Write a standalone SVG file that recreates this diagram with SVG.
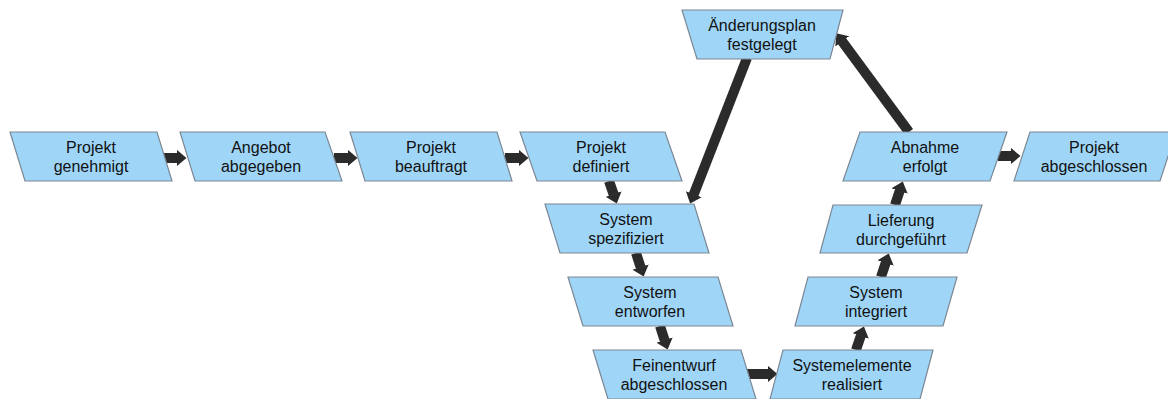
<svg xmlns="http://www.w3.org/2000/svg" width="1168" height="399" viewBox="0 0 1168 399">
  <style>
    .box { fill: #9fd6f8; stroke: #7b8794; stroke-width: 1.2; }
    .lbl { font-family: "Liberation Sans", Arial, sans-serif; font-size: 16px; fill: #111; text-anchor: middle; }
    .arr { stroke: #2b2b2b; stroke-width: 10; fill: none; marker-end: url(#head); }
  </style>
  <defs>
    <marker id="head" markerUnits="userSpaceOnUse" viewBox="0 0 10 17" markerWidth="10" markerHeight="17" refX="0.5" refY="8.5" orient="auto">
      <path d="M0,0 L10,8.5 L0,17 z" fill="#2b2b2b"/>
    </marker>
  </defs>
  <rect width="1168" height="399" fill="#ffffff"/>

  <g id="connectors">
    <line class="arr" x1="164" y1="158" x2="177" y2="158"/>
    <line class="arr" x1="334" y1="158" x2="348" y2="158"/>
    <line class="arr" x1="505" y1="158" x2="519" y2="158"/>
    <line class="arr" x1="998" y1="156" x2="1011" y2="156"/>
    <line class="arr" x1="747" y1="374" x2="768" y2="374"/>
    <line class="arr" x1="609" y1="181" x2="613.7" y2="194.5"/>
    <line class="arr" x1="636" y1="253" x2="640.7" y2="267.5"/>
    <line class="arr" x1="660" y1="326" x2="664.7" y2="340.5"/>
    <line class="arr" x1="856" y1="350" x2="860.9" y2="335.5"/>
    <line class="arr" x1="881" y1="277" x2="885.8" y2="262.5"/>
    <line class="arr" x1="895" y1="205" x2="899.8" y2="190.5"/>
    <line class="arr" x1="747" y1="58" x2="693.6" y2="194.7"/>
    <line class="arr" x1="909" y1="132" x2="841.9" y2="41"/>
  </g>

  <g id="n1"><polygon class="box" points="10,132 157,132 172,181 25,181"/><text class="lbl" x="91" y="153">Projekt</text><text class="lbl" x="91" y="172">genehmigt</text></g>
  <g id="n2"><polygon class="box" points="180,132 325,132 342,181 195,181"/><text class="lbl" x="261" y="153">Angebot</text><text class="lbl" x="261" y="172">abgegeben</text></g>
  <g id="n3"><polygon class="box" points="350,132 497,132 512,181 365,181"/><text class="lbl" x="431" y="153">Projekt</text><text class="lbl" x="431" y="172">beauftragt</text></g>
  <g id="n4"><polygon class="box" points="520,132 665,132 682,181 537,181"/><text class="lbl" x="601" y="153">Projekt</text><text class="lbl" x="601" y="172">definiert</text></g>
  <g id="n5"><polygon class="box" points="545,204 694,204 709,253 560,253"/><text class="lbl" x="626" y="225">System</text><text class="lbl" x="626" y="244">spezifiziert</text></g>
  <g id="n6"><polygon class="box" points="568,277 718,277 733,326 583,326"/><text class="lbl" x="650" y="298">System</text><text class="lbl" x="650" y="317">entworfen</text></g>
  <g id="n7"><polygon class="box" points="593,350 741,350 756,399 608,399"/><text class="lbl" x="674" y="371">Feinentwurf</text><text class="lbl" x="674" y="390">abgeschlossen</text></g>
  <g id="n8"><polygon class="box" points="783,350 933,350 920,399 770,399"/><text class="lbl" x="852" y="371">Systemelemente</text><text class="lbl" x="852" y="390">realisiert</text></g>
  <g id="n9"><polygon class="box" points="808,277 957,277 943,326 795,326"/><text class="lbl" x="876" y="298">System</text><text class="lbl" x="876" y="317">integriert</text></g>
  <g id="n10"><polygon class="box" points="833,205 982,205 967,253 820,253"/><text class="lbl" x="901" y="226">Lieferung</text><text class="lbl" x="901" y="245">durchgeführt</text></g>
  <g id="n11"><polygon class="box" points="860,132 1007,132 990,181 843,181"/><text class="lbl" x="925" y="153">Abnahme</text><text class="lbl" x="925" y="172">erfolgt</text></g>
  <g id="n12"><polygon class="box" points="1030,132 1176,132 1160,181 1014,181"/><text class="lbl" x="1094" y="153">Projekt</text><text class="lbl" x="1094" y="172">abgeschlossen</text></g>
  <g id="n13"><polygon class="box" points="682,10 843,10 830,59 697,59"/><text class="lbl" x="762" y="31">Änderungsplan</text><text class="lbl" x="762" y="50">festgelegt</text></g>
</svg>
